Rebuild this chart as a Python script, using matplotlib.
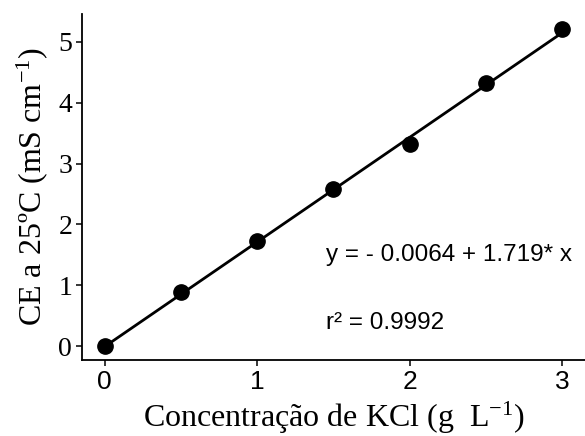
import numpy as np
import matplotlib
matplotlib.use("Agg")
import matplotlib.pyplot as plt

plt.rcParams['mathtext.fontset'] = 'custom'
plt.rcParams['mathtext.rm'] = 'Liberation Serif'
plt.rcParams['mathtext.it'] = 'Liberation Serif:italic'

# KCl concentration (g/L) vs electrical conductivity at 25 C
conc = [0, 0.5, 1.0, 1.5, 2.0, 2.5, 3.0]
ce = [0.01, 0.89, 1.73, 2.58, 3.32, 4.33, 5.21]
intercept = -0.0064
slope = 1.719

fig = plt.figure(figsize=(5.85, 4.36), dpi=100)
ax = fig.add_axes([0.140, 0.174, 0.86, 0.794])

xfit = np.array([conc[0], conc[-1]])
ax.plot(xfit, intercept + slope * xfit, color='black', lw=2.0, zorder=2)
ax.plot(conc, ce, 'o', color='black', ms=11, zorder=3)

ax.set_xlim(-0.15, 3.15)
ax.set_ylim(-0.23, 5.46)
ax.set_xticks([0, 1, 2, 3])
ax.set_yticks([0, 1, 2, 3, 4, 5])

for s in ['top', 'right']:
    ax.spines[s].set_visible(False)
for s in ['left', 'bottom']:
    ax.spines[s].set_linewidth(1.3)

ax.tick_params(direction='out', length=4, width=1.1, colors='black', pad=3)
for lab in ax.get_xticklabels():
    lab.set_fontfamily('Liberation Sans')
    lab.set_fontsize(19)
for lab in ax.get_yticklabels():
    lab.set_fontfamily('Liberation Serif')
    lab.set_fontsize(20)

serif = {'family': 'Liberation Serif', 'size': 23}
ax.set_xlabel(r'Concentração de KCl (g  L$^{-1}$)', fontdict=serif, labelpad=4)
ax.set_ylabel(r'CE a 25ºC (mS cm$^{-1}$)', fontdict=serif, labelpad=6)

ax.text(1.45, 1.50, 'y = - 0.0064 + 1.719* x', family='Liberation Sans',
        fontsize=17.5, va='center', ha='left')
ax.text(1.45, 0.38, 'r² = 0.9992', family='Liberation Sans',
        fontsize=17.5, va='center', ha='left')

fig.savefig('out.png', dpi=100)
